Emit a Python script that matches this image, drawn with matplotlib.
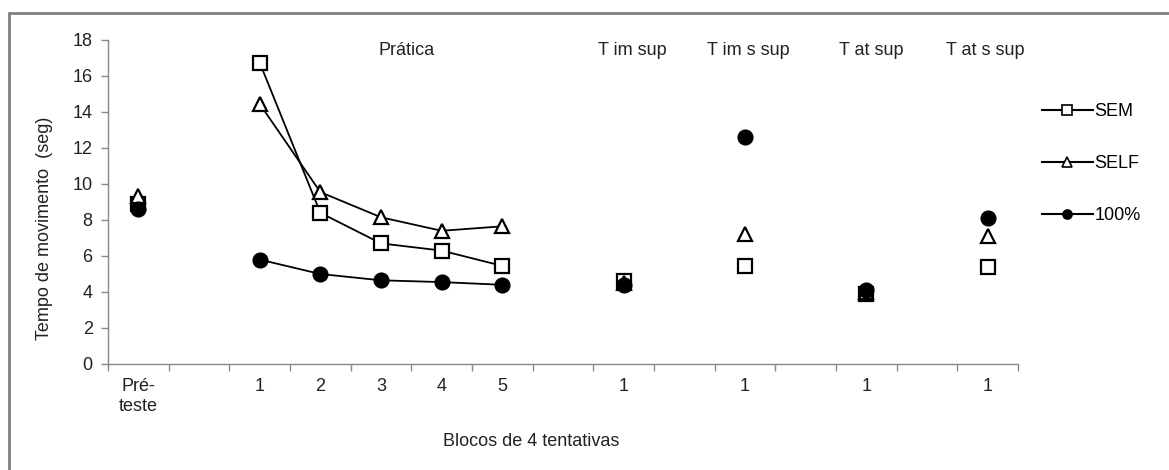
import matplotlib
matplotlib.use("Agg")
import matplotlib.pyplot as plt
import numpy as np
from matplotlib.lines import Line2D
from matplotlib.patches import Rectangle

plt.rcParams['font.family'] = ['Liberation Sans', 'DejaVu Sans']

# categories along the x axis (15 slots, empty ones are spacers)
tick_labels = ['Pré-\nteste', '', '1', '2', '3', '4', '5', '', '1', '', '1', '', '1', '', '1']
pre_pos = [0]
practice_pos = [2, 3, 4, 5, 6]
test_pos = [8, 10, 12, 14]
section_labels = ['Prática', 'T im sup', 'T im s sup', 'T at sup', 'T at s sup']
section_x = [4.42, 8.14, 10.05, 12.08, 13.96]

# values (seg)
sem_pre = [8.9]
sem_practice = [16.75, 8.4, 6.7, 6.3, 5.45]
sem_test = [4.6, 5.45, 3.9, 5.4]

self_pre = [9.35]
self_practice = [14.45, 9.55, 8.15, 7.4, 7.65]
self_test = [4.5, 7.25, 4.0, 7.1]

full_pre = [8.6]
full_practice = [5.8, 5.0, 4.65, 4.55, 4.4]
full_test = [4.4, 12.6, 4.1, 8.1]

series = [
    ('SEM', 's', 'white', sem_pre, sem_practice, sem_test),
    ('SELF', '^', 'white', self_pre, self_practice, self_test),
    ('100%', 'o', 'black', full_pre, full_practice, full_test),
]

fs = 13
tc = '#222222'

fig = plt.figure(figsize=(11.69, 4.70), dpi=100)
ax = fig.add_axes([108/1169, 1 - 364/470, 910/1169, 324/470])

for name, mk, fc, pre, prac, test in series:
    ax.plot(practice_pos, prac, color='black', lw=1.3, marker=mk, ms=10,
            mfc=fc, mec='black', mew=1.6)
    ax.plot(pre_pos, pre, ls='none', marker=mk, ms=10, mfc=fc, mec='black', mew=1.6)
    ax.plot(test_pos, test, ls='none', marker=mk, ms=10, mfc=fc, mec='black', mew=1.6)

ax.set_xlim(-0.5, 14.5)
ax.set_ylim(0, 18)
ax.set_yticks(np.arange(0, 19, 2))
ax.set_xticks(np.arange(15))
ax.set_xticklabels(tick_labels, fontsize=fs, color=tc, linespacing=1.25)
ax.set_xticks(np.arange(-0.5, 15, 1), minor=True)
ax.tick_params(axis='x', which='major', length=0, pad=10)
ax.tick_params(axis='x', which='minor', length=5, color='#888888', width=1)
ax.tick_params(axis='y', length=5, color='#888888', width=1, labelsize=fs,
               labelcolor=tc, pad=6)
for s in ['top', 'right']:
    ax.spines[s].set_visible(False)
for s in ['left', 'bottom']:
    ax.spines[s].set_color('#888888')
    ax.spines[s].set_linewidth(1)

for lab, x in zip(section_labels, section_x):
    ax.text(x, 17.44, lab, ha='center', va='center', fontsize=fs, color=tc)

ax.set_ylabel('Tempo de movimento  (seg)', fontsize=fs, color=tc)
ax.yaxis.set_label_coords(-55/910, 0.42)
fig.text(531/1169, 1 - 442/470, 'Blocos de 4 tentativas', ha='center', va='center',
         fontsize=fs, color=tc)

handles = [Line2D([0], [0], color='black', lw=1.5, marker=mk, ms=6.5, mfc=fc,
                  mec='black', mew=1.2)
           for name, mk, fc, *_ in series]
fig.legend(handles, [s[0] for s in series], loc='upper left',
           bbox_to_anchor=(1033/1169, 1 - 94/470), frameon=False, fontsize=fs,
           handlelength=2.8, handletextpad=0.1, labelspacing=1.95, borderpad=0)

# outer chart border (right and bottom edges fall outside the image)
fig.add_artist(Rectangle((8.5/1169, -0.1), 1.2, 1.1 - 13.5/470, transform=fig.transFigure,
                         fill=False, ec='#808080', lw=2, clip_on=False))

fig.savefig('out.png', dpi=100)
